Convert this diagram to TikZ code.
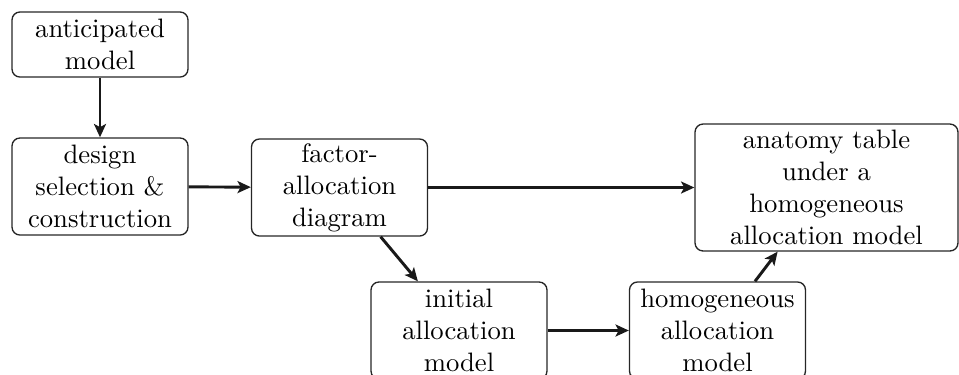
\documentclass[tikz,border=0pt]{standalone}
\usetikzlibrary{arrows.meta}
\begin{document}
\begin{tikzpicture}[x=0.375pt,y=-0.375pt,
  box/.style={draw=black!85, line width=0.5pt, rounded corners=3pt, align=center,
    inner sep=0pt, minimum width=66pt, font=\normalsize},
  twol/.style={minimum height=24.4pt},
  threel/.style={minimum height=36.4pt},
  fourl/.style={minimum height=47.6pt, minimum width=98.6pt},
  arr/.style={line width=1.1pt, draw=black!90, -{Stealth[length=5pt,width=4.5pt,inset=1.2pt]}}]
\useasboundingbox (0,0) rectangle (959,374);
\node[box,twol] (ant) at (100,44.5) {anticipated\\model};
\node[box,threel] (des) at (100,186.5) {design\\selection \&\\construction};
\node[box,threel] (fac) at (339.5,187.5) {factor-\\allocation\\diagram};
\node[box,fourl] (ana) at (826.5,187.5) {anatomy table\\under a\\homogeneous\\allocation model};
\node[box,threel] (ini) at (459,330.5) {initial\\allocation\\model};
\node[box,threel] (hom) at (717.5,330.5) {homogeneous\\allocation\\model};
\draw[arr] (ant) -- (des);
\draw[arr] (des) -- (fac);
\draw[arr] (fac) -- (ana);
\draw[arr] (fac) -- (ini);
\draw[arr] (ini) -- (hom);
\draw[arr] (hom) -- (ana);
\end{tikzpicture}
\end{document}
